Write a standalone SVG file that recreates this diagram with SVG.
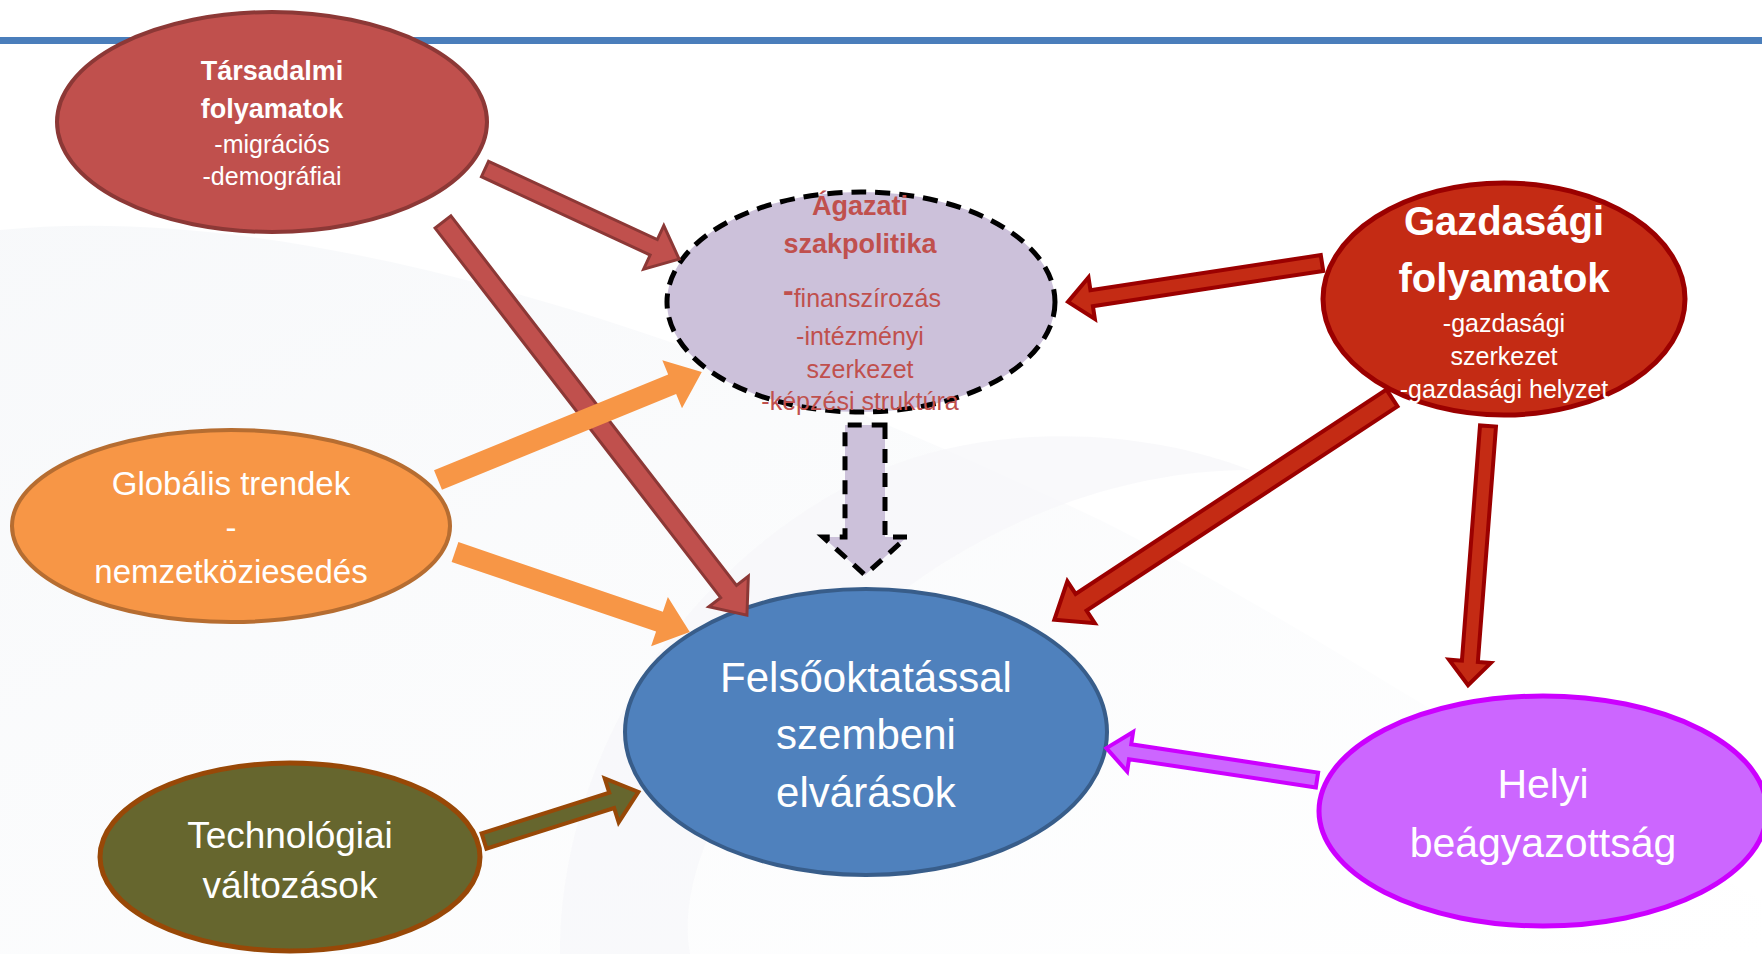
<svg xmlns="http://www.w3.org/2000/svg" width="1762" height="954" viewBox="0 0 1762 954">
<defs>
<style>
text{font-family:"Liberation Sans",Arial,sans-serif;text-anchor:middle;fill:#fff}
.b{font-weight:bold}
.red{fill:#C0504D}
.ar-red{fill:#C0504D;stroke:#8C3836;stroke-width:3;stroke-linejoin:miter}
.ar-dred{fill:#C42B14;stroke:#9B0000;stroke-width:4;stroke-linejoin:miter}
.ar-or{fill:#F79646}
.ar-dash{fill:#CCC1DA;stroke:#000;stroke-width:5;stroke-dasharray:14 10}
.ar-ol{fill:#66662E;stroke:#984807;stroke-width:4}
.ar-mg{fill:#CC66FF;stroke:#CC00FF;stroke-width:4}
</style>
<linearGradient id="bgg" x1="0" y1="0" x2="1" y2="1">
<stop offset="0" stop-color="#eef1f5"/>
<stop offset="1" stop-color="#ffffff"/>
</linearGradient>
</defs>
<rect width="1762" height="954" fill="#fff"/>
<path d="M0,230 C300,200 700,330 1100,520 C1300,620 1500,760 1762,900 L1762,954 L0,954 Z" fill="url(#bgg)" opacity="0.45"/>
<path d="M560,954 C560,760 680,560 880,470 C1000,420 1150,430 1250,470 C1080,470 900,560 790,700 C700,820 680,900 690,954 Z" fill="#f6f7f9" opacity="0.7"/>
<rect x="0" y="37" width="1762" height="7" fill="#4A7EBB"/>

<g id="node-tarsadalmi">
<ellipse cx="272" cy="122" rx="215" ry="110" fill="#C0504D" stroke="#8C3836" stroke-width="4"/>
<text class="b" x="272" y="80" font-size="27">Társadalmi</text>
<text class="b" x="272" y="118" font-size="27">folyamatok</text>
<text x="272" y="153" font-size="25">-migrációs</text>
<text x="272" y="185" font-size="25">-demográfiai</text>
</g>

<g id="node-agazati">
<ellipse cx="861" cy="302" rx="194" ry="110" fill="#CCC1DA" stroke="#000" stroke-width="5" stroke-dasharray="15 9"/>
<text class="b red" x="860" y="215" font-size="27">Ágazati</text>
<text class="b red" x="860" y="253" font-size="27">szakpolitika</text>
<text class="red" x="862" y="307" font-size="25"><tspan font-weight="bold" font-size="32" dy="-6">-</tspan><tspan dy="6">finanszírozás</tspan></text>
<text class="red" x="860" y="345" font-size="25">-intézményi</text>
<text class="red" x="860" y="378" font-size="25">szerkezet</text>
<text class="red" x="860" y="410" font-size="25">-képzési struktúra</text>
</g>

<g id="node-gazdasagi">
<ellipse cx="1504" cy="299" rx="181" ry="116" fill="#C42B14" stroke="#9B0000" stroke-width="5"/>
<text class="b" x="1504" y="235" font-size="40">Gazdasági</text>
<text class="b" x="1504" y="292" font-size="40">folyamatok</text>
<text x="1504" y="332" font-size="25">-gazdasági</text>
<text x="1504" y="365" font-size="25">szerkezet</text>
<text x="1504" y="398" font-size="25">-gazdasági helyzet</text>
</g>

<g id="node-globalis">
<ellipse cx="231" cy="526" rx="219" ry="96" fill="#F79646" stroke="#B66D31" stroke-width="4"/>
<text x="231" y="495" font-size="33">Globális trendek</text>
<text x="231" y="539" font-size="33">-</text>
<text x="231" y="583" font-size="33">nemzetköziesedés</text>
</g>

<g id="node-felsooktatas">
<ellipse cx="866" cy="732" rx="241" ry="143" fill="#4F81BD" stroke="#385D8A" stroke-width="4"/>
<text x="866" y="692" font-size="42">Felsőoktatással</text>
<text x="866" y="749" font-size="42">szembeni</text>
<text x="866" y="807" font-size="42">elvárások</text>
</g>

<g id="node-technologiai">
<ellipse cx="290" cy="857" rx="190" ry="94" fill="#66662E" stroke="#984807" stroke-width="5"/>
<text x="290" y="848" font-size="37">Technológiai</text>
<text x="290" y="898" font-size="37">változások</text>
</g>

<g id="node-helyi">
<ellipse cx="1543" cy="811" rx="224" ry="115" fill="#CC66FF" stroke="#CC00FF" stroke-width="5"/>
<text x="1543" y="798" font-size="41">Helyi</text>
<text x="1543" y="857" font-size="41">beágyazottság</text>
</g>

<g id="connectors">
<polygon class="ar-red" transform="translate(485,169) rotate(24.9)" points="0,-8.5 186,-8.5 186,-24 214,0 186,24 186,8.5 0,8.5"/>
<polygon class="ar-red" transform="translate(443,222) rotate(52.3)" points="0,-10 467,-10 467,-25 497,0 467,25 467,10 0,10"/>
<polygon class="ar-dred" transform="translate(1322,263) rotate(171.3)" points="0,-8 233,-8 233,-21 257,0 233,21 233,8 0,8"/>
<polygon class="ar-dred" transform="translate(1392,398) rotate(146.7)" points="0,-10 372,-10 372,-25 404,0 372,25 372,10 0,10"/>
<polygon class="ar-dred" transform="translate(1488,426) rotate(94.4)" points="0,-8 236,-8 236,-21 260,0 236,21 236,8 0,8"/>
<polygon class="ar-or" transform="translate(438,480) rotate(-22.25)" points="0,-10.5 253,-10.5 253,-26 285,0 253,26 253,10.5 0,10.5"/>
<polygon class="ar-or" transform="translate(455,552) rotate(18.8)" points="0,-10.5 216,-10.5 216,-26 248,0 216,26 216,10.5 0,10.5"/>
<polygon class="ar-dash" transform="translate(865,425) rotate(90)" points="0,-20 112,-20 112,-42 150,0 112,42 112,20 0,20"/>
<polygon class="ar-ol" transform="translate(484,841) rotate(-17.65)" points="0,-8 134,-8 134,-23 162,0 134,23 134,8 0,8"/>
<polygon class="ar-mg" transform="translate(1317,780) rotate(188.6)" points="0,-7.5 189,-7.5 189,-20 213,0 189,20 189,7.5 0,7.5"/>
</g>
</svg>
